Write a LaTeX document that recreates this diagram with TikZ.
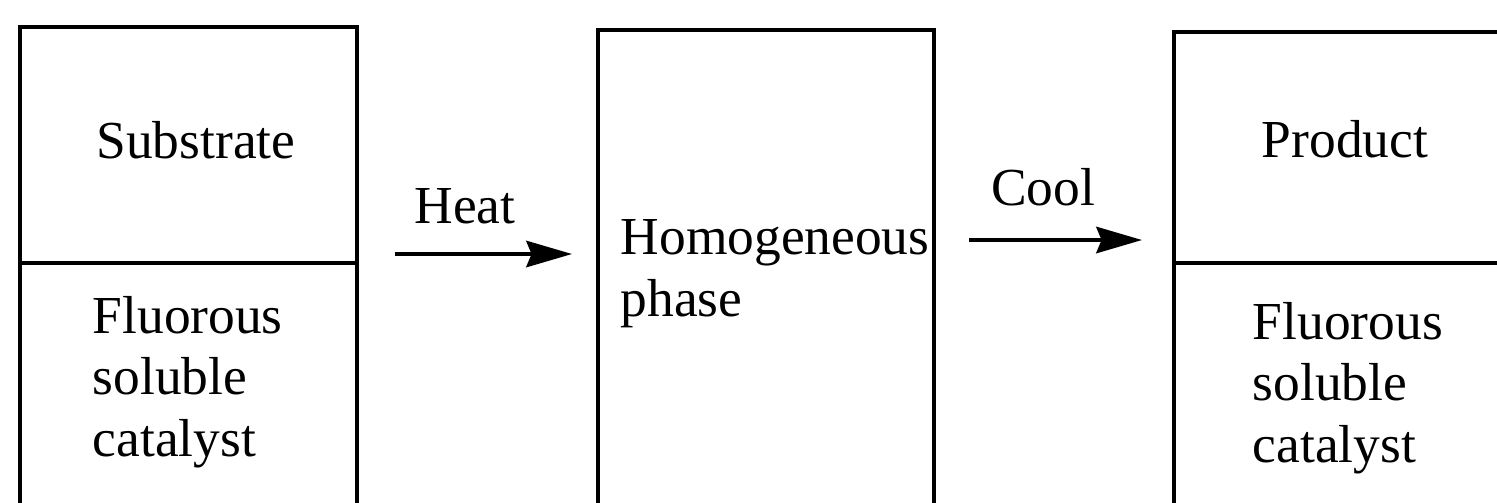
\documentclass[tikz,border=0pt]{standalone}
\usepackage{fontspec}
\setmainfont{Liberation Serif}
\usetikzlibrary{arrows.meta}

\begin{document}
\begin{tikzpicture}[x=0.01cm, y=-0.01cm, >={Stealth[length=13pt,width=7.5pt,inset=1.5pt]},
    cell/.style={draw, line width=1.3pt, inner sep=0pt},
    txt/.style={inner sep=0pt, font=\fontsize{15.2}{17.4}\selectfont, align=left},
    flow/.style={->, line width=1.1pt}]
    \useasboundingbox (0,0) rectangle (1497,502);
    \clip (0,0) rectangle (1497,502);

    % left vessel
    \node[cell, minimum width=3.37cm, minimum height=2.36cm] (subcell) at (188.5,145) {};
    \node[cell, minimum width=3.37cm, minimum height=2.98cm] (catleft) at (188.5,412) {};
    % middle vessel
    \node[cell, minimum width=3.36cm, minimum height=5.31cm] (homcell) at (766,295.5) {};
    % right vessel
    \node[cell, minimum width=3.66cm, minimum height=2.31cm] (procell) at (1357,147.5) {};
    \node[cell, minimum width=3.66cm, minimum height=2.98cm] (catright) at (1357,412) {};

    % base of a multi-line node = last line
    \node[txt, anchor=base] (substrate) at (196,158) {Substrate};
    \node[txt, anchor=base west] (fluleft) at (92,456) {Fluorous\\soluble\\catalyst};
    \node[txt, anchor=base west] (homog) at (620,316) {Homogeneous\\phase};
    \node[txt, anchor=base] (product) at (1345,157) {Product};
    \node[txt, anchor=base west] (fluright) at (1252,462) {Fluorous\\soluble\\catalyst};

    \coordinate (heatA) at (395,254);
    \coordinate (heatB) at (572,254);
    \coordinate (coolA) at (969,240);
    \coordinate (coolB) at (1142,240);

    \draw[flow] (heatA) -- (heatB);
    \node[txt, anchor=base] (heat) at (465,223) {Heat};
    \draw[flow] (coolA) -- (coolB);
    \node[txt, anchor=base] (cool) at (1043,205) {Cool};
\end{tikzpicture}
\end{document}
